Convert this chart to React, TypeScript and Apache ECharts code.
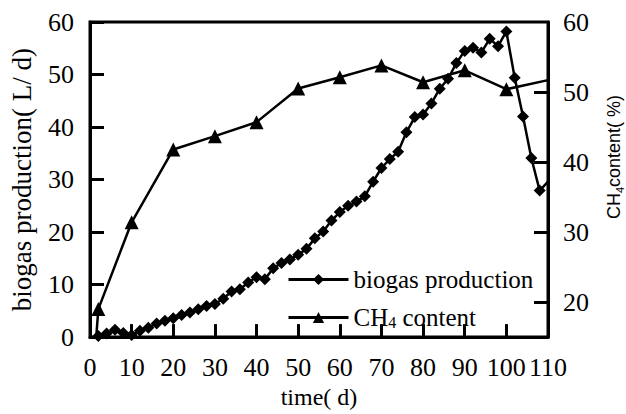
import React, { useEffect, useRef } from "react";
import * as echarts from "echarts";

const biogasDays = [2, 4, 6, 8, 10, 12, 14, 16, 18, 20, 22, 24, 26, 28, 30, 32, 34, 36, 38, 40, 42, 44, 46, 48, 50, 52, 54, 56, 58, 60, 62, 64, 66, 68, 70, 72, 74, 76, 78, 80, 82, 84, 86, 88, 90, 92, 94, 96, 98, 100, 102, 104, 106, 108, 110];
const biogasValues = [0.2, 0.7, 1.4, 0.8, 0.4, 1.2, 1.8, 2.6, 3.1, 3.6, 4.2, 4.7, 5.3, 5.9, 6.3, 7.3, 8.7, 9.1, 10.4, 11.4, 11.0, 13.1, 14.1, 14.8, 15.7, 16.8, 18.8, 20.1, 22.2, 23.8, 25.0, 25.8, 26.8, 29.6, 32.2, 33.9, 35.3, 39.0, 41.9, 42.4, 44.5, 47.3, 49.2, 52.2, 54.5, 55.1, 54.2, 56.8, 55.4, 58.2, 49.4, 42.0, 34.1, 27.9, 29.6];

const ch4Days = [1.5, 2, 10, 20, 30, 40, 50, 60, 70, 80, 90, 100, 110];
const ch4Values = [15, 19.0, 31.4, 41.8, 43.7, 45.7, 50.5, 52.1, 53.8, 51.4, 53.1, 50.4, 51.7];

const xTicks = [0, 10, 20, 30, 40, 50, 60, 70, 80, 90, 100, 110];
const rightLabels = [20, 30, 40, 50, 60];
const rightTicks = [20, 30, 40, 50];

const SERIF = "Liberation Serif";
const SANS = "Liberation Sans";

export default function App() {
  const ref = useRef<HTMLDivElement>(null);
  useEffect(() => {
    if (!ref.current) return;
    const chart = echarts.init(ref.current, null, { renderer: "svg" });
    const biogasData = biogasDays.map((d, i) => {
      const item: any = { value: [d, biogasValues[i]] };
      if (d === 110) item.symbol = "none";
      return item;
    });
    const ch4Data = ch4Days.map((d, i) => {
      const item: any = { value: [d, ch4Values[i]] };
      if (i === 0 || d === 110) item.symbol = "none";
      return item;
    });
    chart.setOption({
      animation: false,
      backgroundColor: "#fff",
      grid: {
        left: 88.5,
        right: 78,
        top: 22,
        bottom: 67,
        show: true,
        borderColor: "#000",
        borderWidth: 3,
        backgroundColor: "transparent",
      },
      legend: {
        orient: "vertical",
        left: 282,
        top: 262,
        itemWidth: 60,
        itemHeight: 14,
        itemGap: 13,
        lineStyle: { width: 3, color: "#000" },
        textStyle: {
          fontFamily: SERIF,
          fontSize: 25,
          color: "#000",
          rich: {
            a: { fontFamily: SERIF, fontSize: 25, color: "#000", lineHeight: 26 },
            s: { fontFamily: SERIF, fontSize: 16, color: "#000", lineHeight: 12, verticalAlign: "bottom" },
          },
        },
        formatter: (name: string) =>
          name === "CH4 content" ? "{a|CH}{s|4}{a| content}" : "{a|" + name + "}",
        data: ["biogas production", "CH4 content"],
      },
      xAxis: {
        type: "value",
        min: 0,
        max: 110,
        interval: 10,
        name: "time( d)",
        nameLocation: "middle",
        nameGap: 47,
        nameTextStyle: { fontFamily: SERIF, fontSize: 24, color: "#000" },
        axisLine: { show: true, lineStyle: { color: "#000", width: 3 } },
        axisTick: { inside: true, length: 13, lineStyle: { color: "#000", width: 3 } },
        axisLabel: {
          fontFamily: SERIF,
          fontSize: 26,
          color: "#000",
          margin: 17,
          customValues: xTicks,
        },
        splitLine: { show: false },
      },
      yAxis: [
        {
          type: "value",
          min: 0,
          max: 60,
          interval: 10,
          position: "left",
          name: "biogas production( L/ d)",
          nameLocation: "middle",
          nameRotate: 90,
          nameGap: 55,
          nameTextStyle: { fontFamily: SERIF, fontSize: 27, color: "#000" },
          axisLine: { show: true, lineStyle: { color: "#000", width: 3 } },
          axisTick: { inside: true, length: 14, lineStyle: { color: "#000", width: 3 } },
          axisLabel: { fontFamily: SERIF, fontSize: 26, color: "#000", margin: 16 },
          splitLine: { show: false },
        },
        {
          type: "value",
          min: 15,
          max: 60,
          position: "right",
          axisLine: { show: true, lineStyle: { color: "#000", width: 3 } },
          axisTick: {
            inside: true,
            length: 14,
            lineStyle: { color: "#000", width: 3 },
            customValues: rightTicks,
          },
          axisLabel: {
            fontFamily: SERIF,
            fontSize: 26,
            color: "#000",
            margin: 15,
            customValues: rightLabels,
          },
          splitLine: { show: false },
        },
      ],
      graphic: [
        {
          type: "text",
          x: 614,
          y: 157,
          rotation: Math.PI / 2,
          style: {
            text: "{a|CH}{s|4}{a|content( %)}",
            align: "center",
            verticalAlign: "middle",
            rich: {
              a: { fontFamily: SANS, fontSize: 18, fill: "#000", lineHeight: 22 },
              s: { fontFamily: SANS, fontSize: 11, fill: "#000", lineHeight: 11, verticalAlign: "bottom" },
            },
          },
        },
      ],
      series: [
        {
          name: "biogas production",
          type: "line",
          yAxisIndex: 0,
          data: biogasData,
          symbol: "diamond",
          symbolSize: 12,
          itemStyle: { color: "#000" },
          lineStyle: { color: "#000", width: 2.5 },
          z: 3,
        },
        {
          name: "CH4 content",
          type: "line",
          yAxisIndex: 1,
          data: ch4Data,
          symbol: "triangle",
          symbolSize: 14,
          itemStyle: { color: "#000" },
          lineStyle: { color: "#000", width: 2.5 },
          z: 3,
        },
      ],
    });
    return () => chart.dispose();
  }, []);
  return <div ref={ref} style={{ width: 626, height: 414, position: "absolute", left: 0, top: 0 }} />;
}
